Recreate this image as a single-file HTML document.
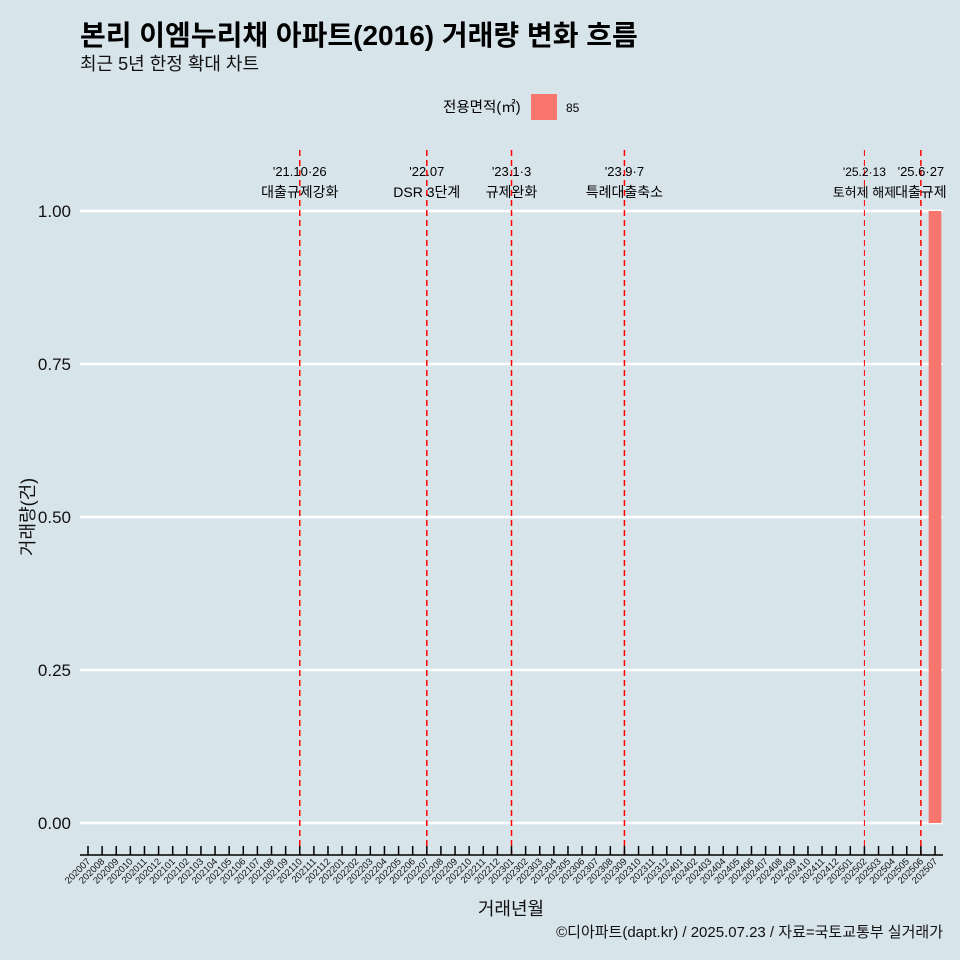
<!DOCTYPE html>
<html><head><meta charset="utf-8"><style>
body{margin:0;background:#d7e4ea;font-family:"Liberation Sans","Noto Sans CJK KR",sans-serif;overflow:hidden;}
svg text{font-family:"Liberation Sans","Noto Sans CJK KR",sans-serif;}
svg{display:block}
</style></head><body>
<svg id="c" width="960" height="960" xmlns="http://www.w3.org/2000/svg">
<rect width="960" height="960" fill="#d7e4ea"/>
<text x="80" y="45" font-size="28" font-weight="bold" fill="#000">본리 이엠누리채 아파트(2016) 거래량 변화 흐름</text>
<text x="80" y="70" font-size="18" fill="#111">최근 5년 한정 확대 차트</text>
<g>
<text x="443" y="112" font-size="14.5" fill="#000">전용면적(㎡)</text>
<rect x="531" y="94" width="26" height="26" fill="#f8766d"/>
<text x="566" y="112" font-size="12" fill="#000">85</text>
</g>
<g id="grid"></g><g id="events"></g><g id="bars"></g><g id="xaxis"></g><g id="yaxis"></g>
<text transform="translate(34,517) rotate(-90)" text-anchor="middle" font-size="18" fill="#111">거래량(건)</text>
<text x="511" y="915" text-anchor="middle" font-size="18" fill="#111">거래년월</text>
<text x="943" y="937" text-anchor="end" font-size="15" fill="#111">©디아파트(dapt.kr) / 2025.07.23 / 자료=국토교통부 실거래가</text>
</svg>
<script>
const months=[];for(let y=2020;y<=2025;y++)for(let m=1;m<=12;m++){const k=y*100+m;if(k>=202007&&k<=202507)months.push(String(k));}
const barMonths=["202507"];
const barValues=[1];
const yTicks=[0,0.25,0.5,0.75,1.0];
const yTickLabels=["0.00","0.25","0.50","0.75","1.00"];
const eventMonths=["202110","202207","202301","202309","202502","202506"];
const eventDates=["'21.10·26","'22.07","'23.1·3","'23.9·7","'25.2·13","'25.6·27"];
const eventLabels=["대출규제강화","DSR 3단계","규제완화","특례대출축소","토허제 해제","대출규제"];
const NS="http://www.w3.org/2000/svg";
const x0=88,step=(935-88)/(months.length-1);
const X=m=>x0+months.indexOf(m)*step;
const Y=v=>823-v*(823-211);
function el(t,a,p){const e=document.createElementNS(NS,t);for(const k in a)e.setAttribute(k,a[k]);document.getElementById(p).appendChild(e);return e;}
yTicks.forEach((v,i)=>{
const l=el('line',{x1:80,x2:943,y1:Y(v),y2:Y(v),stroke:'#fff','stroke-width':2.5},'grid');


const t=el('text',{x:71,y:Y(v)+6,'text-anchor':'end','font-size':17,fill:'#111'},'yaxis');t.textContent=yTickLabels[i];


});
eventMonths.forEach((m,i)=>{
const x=X(m);
const l=el('line',{x1:x,x2:x,y1:150,y2:855,stroke:'#ff0000','stroke-width':i==4?1:1.5,'stroke-dasharray':'6,4'},'events');


const fs=i==4?12:13;
const d=el('text',{x:x,y:176,'text-anchor':'middle','font-size':fs,fill:'#000'},'events');d.textContent=eventDates[i];


const t=el('text',{x:x,y:197,'text-anchor':'middle','font-size':fs+1,fill:'#000'},'events');t.textContent=eventLabels[i];


});
barMonths.forEach((m,i)=>{
const w=step*0.9;
const r=el('rect',{x:X(m)-w/2,y:Y(barValues[i]),width:w,height:Y(0)-Y(barValues[i]),fill:'#f8766d'},'bars');


});
const ax=el('line',{x1:80,x2:943,y1:855,y2:855,stroke:'#000','stroke-width':1.5},'xaxis');


months.forEach(m=>{
const x=X(m);
const tk=el('line',{x1:x,x2:x,y1:846,y2:855,stroke:'#000','stroke-width':1.5},'xaxis');


const t=el('text',{transform:`translate(${x+3},${862}) rotate(-45)`,'text-anchor':'end','font-size':9.5,fill:'#111'},'xaxis');t.textContent=m;


});
</script>
</body></html>
